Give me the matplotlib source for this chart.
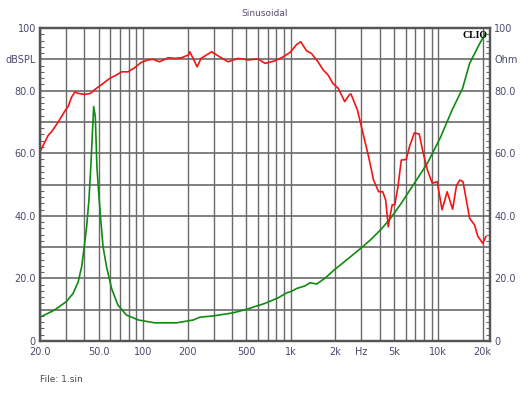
import numpy as np
import matplotlib
matplotlib.use("Agg")
import matplotlib.pyplot as plt
from matplotlib.ticker import FixedLocator, NullFormatter

# SPL curve (red), dBSPL
spl_freq = [20, 22.8, 24, 26.6, 29.5, 31, 32.8, 34.5, 36.3, 40.3, 43.9, 47.5, 52.6, 59.3, 66, 71.5, 79,
            87.5, 97, 108, 117, 129, 148, 164, 182, 203, 207, 218, 232, 247, 291, 330, 376, 440, 514,
            602, 670, 780, 889, 990, 1100, 1170, 1280, 1380, 1530, 1660, 1790, 1930, 2100, 2320, 2510,
            2560, 2830, 3050, 3370, 3640, 3940, 4200, 4400, 4580, 4700, 4870, 5070, 5330, 5610, 6060,
            6380, 6880, 7430, 7820, 8440, 9100, 9830, 10600, 11480, 12500, 13300, 14000, 14700, 16300,
            17600, 18500, 20000, 21000]
spl_db = [60.5, 65.8, 66.9, 70, 73.5, 74.9, 78, 79.6, 79.1, 78.8, 79.1, 80.5, 82, 83.9, 85, 86, 86,
          87.3, 89, 89.8, 90, 89.2, 90.5, 90.3, 90.5, 91.4, 92.4, 90.3, 87.6, 90.3, 92.4, 90.8, 89.2,
          90.3, 89.8, 90.1, 88.7, 89.5, 90.8, 92.2, 94.8, 95.6, 92.7, 91.9, 89.2, 86.6, 85, 82.3, 80.7,
          76.5, 78.8, 78.9, 73.8, 67.4, 58.9, 51.4, 47.7, 47.7, 45, 36.5, 39.7, 43.5, 43.5, 49.3, 57.8,
          58, 62.1, 66.5, 66.1, 61, 54.6, 50.4, 50.9, 41.9, 47.7, 42.1, 49.8, 51.4, 50.9, 39.2, 37.1,
          33.5, 31.2, 33.3]

# Impedance curve (green), Ohm
imp_freq = [20, 25.1, 30.2, 33.5, 36.3, 38.3, 39.9, 41.4, 42.9, 44.2, 45.3, 46.2, 47.4, 48.6, 50,
            51.6, 53.5, 56.5, 61.1, 67.4, 77, 93, 120, 140, 168, 218, 242, 297, 407, 500, 667, 823,
            940, 1005, 1100, 1250, 1350, 1500, 1700, 1970, 2420, 2980, 3470, 4060, 4750, 5610, 6880,
            8440, 10400, 12400, 14600, 16300, 19100, 20900]
imp_ohm = [7.6, 9.9, 12.6, 15.2, 18.9, 23.7, 30.1, 36.5, 45, 55.7, 66.4, 74.9, 71.7, 55.7, 47.2,
           38.7, 30.1, 23.7, 16.8, 11.5, 8.3, 6.7, 5.8, 5.8, 5.8, 6.7, 7.6, 8.0, 9.0, 10.1, 12.0, 13.8,
           15.4, 15.8, 16.8, 17.6, 18.6, 18.2, 20, 22.7, 26.1, 29.6, 32.3, 35.5, 39.2, 44, 50.4,
           56.8, 65.3, 73.8, 80.7, 88.7, 95.1, 98.3]

x_grid = [20, 30, 40, 50, 60, 70, 80, 90, 100, 200, 300, 400, 500, 600, 700, 800, 900,
          1000, 2000, 3000, 4000, 5000, 6000, 7000, 8000, 9000, 10000, 20000]
x_tick_pos = [20, 50, 100, 200, 500, 1000, 2000, 3000, 5000, 10000, 20000]
x_tick_lab = ['20.0', '50.0', '100', '200', '500', '1k', '2k', 'Hz', '5k', '10k', '20k']
y_ticks = [0, 10, 20, 30, 40, 50, 60, 70, 80, 90, 100]
y_left_lab = ['0', '', '20.0', '', '40.0', '', '60.0', '', '80.0', 'dBSPL', '100']
y_right_lab = ['0', '', '20.0', '', '40.0', '', '60.0', '', '80.0', 'Ohm', '100']

label_col = '#4a4a6e'
grid_col = '#6a6a6a'

fig = plt.figure(figsize=(5.3, 3.98), dpi=100)
ax = fig.add_axes([40/530, 57/398, 450/530, 313/398])
ax.set_xscale('log')
ax.set_xlim(20, 22400)
ax.set_ylim(0, 100)

for f in x_grid:
    ax.axvline(f, color=grid_col, lw=1.0, zorder=1)
for v in y_ticks[1:-1]:
    ax.axhline(v, color=grid_col, lw=1.2, zorder=1)

ax.plot(imp_freq, imp_ohm, color='#118a11', lw=1.2, zorder=3)
ax.plot(spl_freq, spl_db, color='#f41414', lw=1.2, zorder=4)

ax.xaxis.set_major_locator(FixedLocator(x_tick_pos))
ax.set_xticklabels(x_tick_lab)
ax.xaxis.set_minor_locator(FixedLocator([]))
ax.xaxis.set_minor_formatter(NullFormatter())
ax.tick_params(axis='x', length=0, pad=4, labelsize=7, labelcolor=label_col)

ax.set_yticks(y_ticks)
ax.set_yticklabels(y_left_lab)
ax.yaxis.set_minor_locator(FixedLocator(np.arange(0, 101, 2)))
ax.tick_params(axis='y', which='major', length=0, pad=3, labelsize=7, labelcolor=label_col)
ax.tick_params(axis='y', which='minor', direction='in', length=3, width=0.8, color='#666666',
               left=True, right=True)

ax2 = ax.twinx()
ax2.set_ylim(0, 100)
ax2.set_yticks(y_ticks)
ax2.set_yticklabels(y_right_lab)
ax2.yaxis.set_minor_locator(FixedLocator(np.arange(0, 101, 2)))
ax2.tick_params(axis='y', which='major', length=0, pad=3, labelsize=7, labelcolor=label_col)
ax2.tick_params(axis='y', which='minor', direction='in', length=3, width=0.8, color='#666666')

for a in (ax, ax2):
    for s in a.spines.values():
        s.set_color('#555555')
        s.set_linewidth(1.6)

fig.text(265/530, 1 - 14/398, 'Sinusoidal', ha='center', va='center', fontsize=6.5, color='#5a4a6a')
fig.text(40/530, 1 - 379/398, 'File: 1.sin', ha='left', va='center', fontsize=6.5, color='#4a4a4a')
ax.text(0.995, 0.99, 'CLIO', transform=ax.transAxes, ha='right', va='top', fontsize=7,
        fontweight='bold', family='Liberation Serif', color='black', zorder=5)

fig.savefig('out.png', dpi=100, facecolor='white')
